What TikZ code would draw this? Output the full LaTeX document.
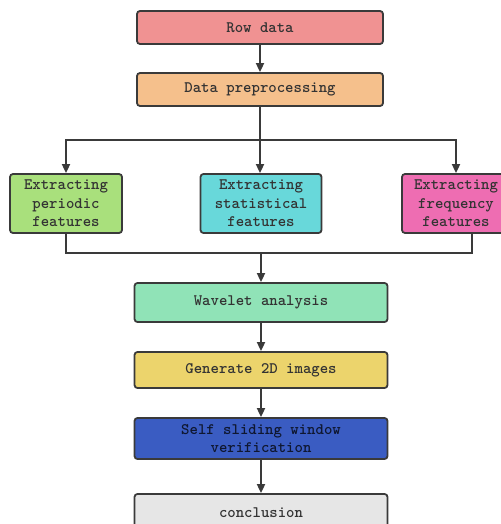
\documentclass[tikz,border=0pt]{standalone}
\usepackage{fontspec}
\usetikzlibrary{arrows.meta}
\definecolor{cred}{HTML}{F09292}
\definecolor{corange}{HTML}{F5C08C}
\definecolor{cgreen}{HTML}{A9E07C}
\definecolor{ccyan}{HTML}{68D8DA}
\definecolor{cpink}{HTML}{EE6DB2}
\definecolor{cmint}{HTML}{90E3B7}
\definecolor{cyellow}{HTML}{ECD46C}
\definecolor{cblue}{HTML}{3A5CC2}
\definecolor{cgray}{HTML}{E6E6E6}
\definecolor{cline}{HTML}{3A3A3A}
\definecolor{ctext}{HTML}{333333}
\tikzset{
  box/.style={draw=cline, line width=1.8pt, rounded corners=3pt, align=center,
    font=\ttfamily\bfseries\fontsize{16}{18.5}\selectfont, text=ctext, inner sep=0pt},
  conn/.style={draw=cline, line width=1.8pt, -{Triangle[length=9pt,width=8pt]}},
  plain/.style={draw=cline, line width=1.8pt}
}
\begin{document}
\begin{tikzpicture}[x=1pt,y=-1pt]
\useasboundingbox (0,0) rectangle (500,524);
\node[box, fill=cred, minimum width=246pt, minimum height=33pt] (row) at (260,27.5) {Row data};
\node[box, fill=corange, minimum width=246pt, minimum height=33pt] (pre) at (260,89.5) {Data preprocessing};
\node[box, fill=cgreen, minimum width=112pt, minimum height=59pt] (per) at (66,203.5) {Extracting\\periodic\\features};
\node[box, fill=ccyan, minimum width=121pt, minimum height=59pt] (sta) at (261,203.5) {Extracting\\statistical\\features};
\node[box, fill=cpink, minimum width=108pt, minimum height=59pt] (fre) at (456,203.5) {Extracting\\frequency\\features};
\node[box, fill=cmint, minimum width=253pt, minimum height=39pt] (wav) at (261,302.5) {Wavelet analysis};
\node[box, fill=cyellow, minimum width=253pt, minimum height=36pt] (gen) at (261,370) {Generate 2D images};
\node[box, fill=cblue, minimum width=253pt, minimum height=41pt, text=black!75!cblue] (sel) at (261,438.5) {Self sliding window\\verification};
\node[box, fill=cgray, minimum width=253pt, minimum height=38pt] (con) at (261,513) {conclusion};
\coordinate (bs) at (260,140);
\coordinate (ms) at (261,253);
\draw[conn] (row) -- (pre);
\draw[plain] (pre.south) -- (bs);
\draw[conn] (bs) -- (sta.north -| bs);
\draw[conn] (bs) -| (per.north);
\draw[conn] (bs) -| (fre.north);
\draw[plain] (per.south) |- (ms);
\draw[plain] ([xshift=16pt]fre.south) |- (ms);
\draw[conn] (ms) -- (wav.north -| ms);
\draw[conn] (wav) -- (gen);
\draw[conn] (gen) -- (sel);
\draw[conn] (sel) -- (con);
\end{tikzpicture}
\end{document}
